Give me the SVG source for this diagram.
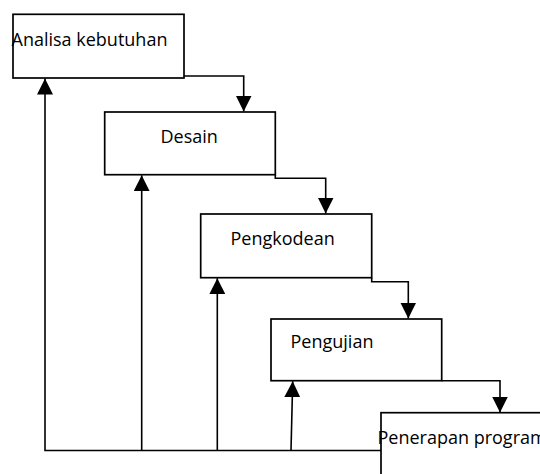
<svg xmlns="http://www.w3.org/2000/svg" width="540" height="474" viewBox="0 0 540 474">
<style>
.box{fill:#fff;stroke:#000;stroke-width:1.7}
.lbl{font-family:"Open Sans","Liberation Sans",sans-serif;font-size:18px;fill:#000}
.con{fill:none;stroke:#000;stroke-width:1.6}
</style>
<defs>
<marker id="ah" markerUnits="userSpaceOnUse" markerWidth="16" markerHeight="16" viewBox="0 0 16 16" refX="16" refY="8" orient="auto">
<path d="M0,0 L16,8 L0,16 Z" fill="#000"/>
</marker>
</defs>
<rect width="540" height="474" fill="#fff"/>
<g id="connectors">
<polyline class="con" points="184,76 243.7,76 243.7,111.5" marker-end="url(#ah)"/>
<polyline class="con" points="275.3,174.5 275.3,178.3 325.7,178.3 325.7,213.5" marker-end="url(#ah)"/>
<polyline class="con" points="371.7,277.7 371.7,281.7 408.3,281.7 408.3,318.5" marker-end="url(#ah)"/>
<polyline class="con" points="441.7,380.7 500,380.7 500,412.5" marker-end="url(#ah)"/>
<polyline class="con" points="381,450.5 45,450.5 45,78.5" marker-end="url(#ah)"/>
<line class="con" x1="141.7" y1="450.5" x2="141.7" y2="175.2" marker-end="url(#ah)"/>
<line class="con" x1="217.3" y1="450.5" x2="217.3" y2="278.2" marker-end="url(#ah)"/>
<line class="con" x1="291" y1="450.5" x2="292.7" y2="381.2" marker-end="url(#ah)"/>
</g>
<g id="node-analisa">
<rect class="box" x="13" y="14.3" width="171" height="63.7"/>
<text class="lbl" x="11.5" y="45.7">Analisa kebutuhan</text>
</g>
<g id="node-desain">
<rect class="box" x="104.7" y="112" width="170.6" height="62.7"/>
<text class="lbl" x="160.5" y="143.3">Desain</text>
</g>
<g id="node-pengkodean">
<rect class="box" x="200.7" y="214" width="171" height="63.7"/>
<text class="lbl" x="230.5" y="245">Pengkodean</text>
</g>
<g id="node-pengujian">
<rect class="box" x="271" y="319" width="170.7" height="61.7"/>
<text class="lbl" x="290.5" y="348.3">Pengujian</text>
</g>
<g id="node-penerapan">
<rect class="box" x="381" y="412.7" width="200" height="100"/>
<text class="lbl" x="377.5" y="444">Penerapan program</text>
</g>
</svg>
